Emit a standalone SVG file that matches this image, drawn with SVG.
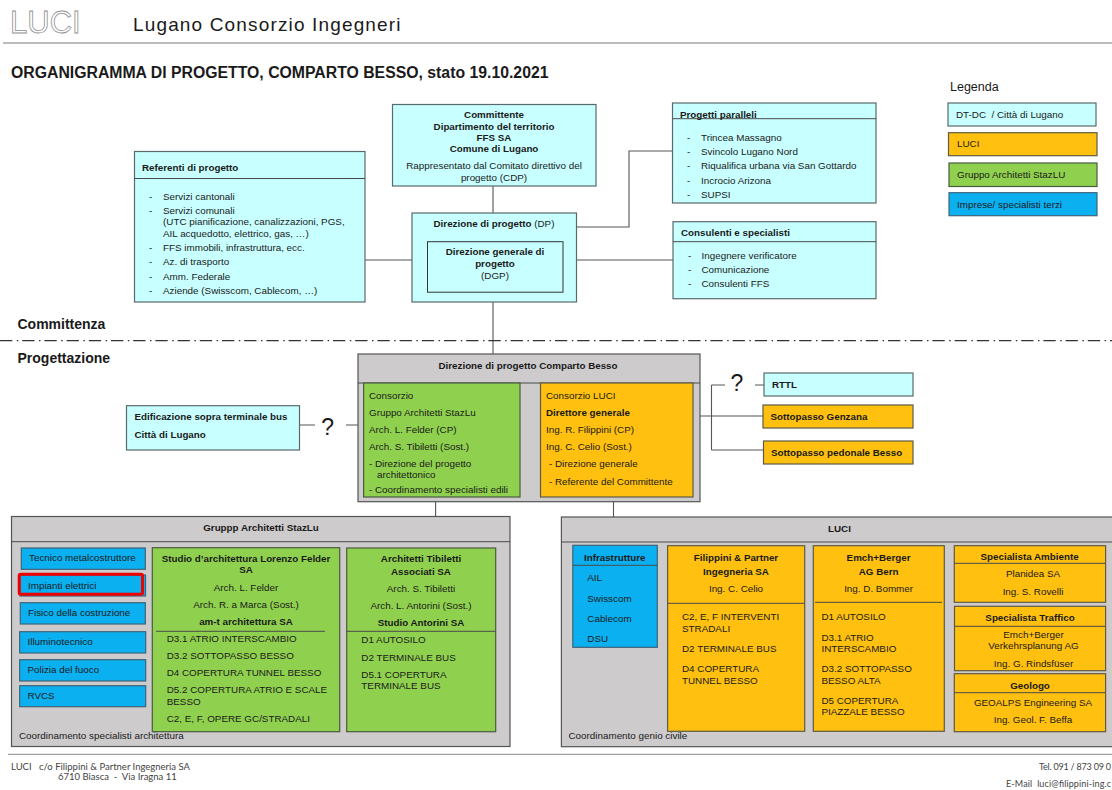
<svg xmlns="http://www.w3.org/2000/svg" width="1112" height="790" viewBox="0 0 1112 790">
<style>
text{font-family:"Liberation Sans",Arial,sans-serif;font-size:9.85px;fill:#1a1a1a}
.b{font-weight:bold;font-size:9.8px}
.m{text-anchor:middle}
.cy{fill:#c8ffff;stroke:#5a6a6c;stroke-width:1.2}
.or{fill:#ffc010;stroke:#5e5a44;stroke-width:1.2}
.gr{fill:#8fd14f;stroke:#4a5a40;stroke-width:1.2}
.bl{fill:#0ab0f0;stroke:#3e6478;stroke-width:1.2}
.gy{fill:#cdcbcc;stroke:#555;stroke-width:1.2}
.ln{stroke:#4a4a4a;stroke-width:1;fill:none}
.conn{stroke:#555;stroke-width:1.1;fill:none}
.foot{font-family:"Lato","Liberation Sans",sans-serif;font-size:9.5px;fill:#444}
.q{font-size:23px;text-anchor:middle}
.sec{font-size:14px;font-weight:bold}
</style>
<rect width="1112" height="790" fill="#fff"/>
<g id="header">
<text x="10" y="33" style="font-size:31px;fill:#fff;stroke:#8f8f8f;stroke-width:.8">LUCI</text>
<text x="133" y="31" style="font-size:19px;letter-spacing:1.15px">Lugano Consorzio Ingegneri</text>
<line x1="3" y1="43" x2="1112" y2="43" stroke="#777" stroke-width="1"/>
<text x="11" y="78" style="font-size:15.8px;font-weight:bold">ORGANIGRAMMA DI PROGETTO, COMPARTO BESSO, stato 19.10.2021</text>
</g>
<g id="connectors">
<path class="conn" d="M493 186V213M493 302V354M365 260H412M576 227H629V151H672M576 260H673"/>
<path class="conn" d="M299.600 425H315M346 425H358M520 428H540.500M700 416H763M711.500 385V450M711.500 385H725M755 385H764M711.500 450H763.500M435.600 501.700V517M613.500 501.700V517"/>
</g>
<g id="divider">
<line x1="0" y1="340.700" x2="1112" y2="340.700" stroke="#333" stroke-width="1.200" stroke-dasharray="12.300 4.500 1.500 3.900"/>
<text x="17.500" y="329" class="sec">Committenza</text>
<text x="17.500" y="363" class="sec">Progettazione</text>
</g>
<g id="committente">
<rect class="cy" x="392.500" y="104.500" width="203.500" height="81.500"/>
<text x="494" y="118" class="b m">Committente</text>
<text x="494" y="129.500" class="b m">Dipartimento del territorio</text>
<text x="494" y="140.500" class="b m">FFS SA</text>
<text x="494" y="152" class="b m">Comune di Lugano</text>
<text x="494" y="169" class="m">Rappresentato dal Comitato direttivo del</text>
<text x="494" y="181" class="m">progetto (CDP)</text>
</g>
<g id="referenti">
<rect class="cy" x="134.500" y="151.500" width="230.500" height="150.500"/>
<line class="ln" x1="134.500" y1="178.500" x2="365" y2="178.500"/>
<text x="142" y="171" class="b">Referenti di progetto</text>
<text x="149" y="199.500">-</text><text x="163" y="199.500">Servizi cantonali</text>
<text x="149" y="214">-</text><text x="163" y="214">Servizi comunali</text>
<text x="163" y="225">(UTC pianificazione, canalizzazioni, PGS,</text>
<text x="163" y="236.500">AIL acquedotto, elettrico, gas, …)</text>
<text x="149" y="251">-</text><text x="163" y="251">FFS immobili, infrastruttura, ecc.</text>
<text x="149" y="265">-</text><text x="163" y="265">Az. di trasporto</text>
<text x="149" y="279.500">-</text><text x="163" y="279.500">Amm. Federale</text>
<text x="149" y="293.500">-</text><text x="163" y="293.500">Aziende (Swisscom, Cablecom, …)</text>
</g>
<g id="direzione-progetto">
<rect class="cy" x="412" y="213" width="164.500" height="89"/>
<text x="494" y="227" class="m"><tspan class="b">Direzione di progetto</tspan> (DP)</text>
<rect x="427.500" y="241.700" width="135.500" height="50.500" fill="#c8ffff" stroke="#333" stroke-width="1"/>
<text x="495" y="255" class="b m">Direzione generale di</text>
<text x="495" y="267" class="b m">progetto</text>
<text x="495" y="278.500" class="m">(DGP)</text>
</g>
<g id="progetti-paralleli">
<rect class="cy" x="672.500" y="103" width="203.500" height="100"/>
<line class="ln" x1="672.500" y1="118.700" x2="876" y2="118.700"/>
<text x="680" y="117.500" class="b">Progetti paralleli</text>
<text x="687" y="140.500">-</text><text x="701" y="140.500">Trincea Massagno</text>
<text x="687" y="154.500">-</text><text x="701" y="154.500">Svincolo Lugano Nord</text>
<text x="687" y="169">-</text><text x="701" y="169">Riqualifica urbana via San Gottardo</text>
<text x="687" y="183.500">-</text><text x="701" y="183.500">Incrocio Arizona</text>
<text x="687" y="197.500">-</text><text x="701" y="197.500">SUPSI</text>
</g>
<g id="consulenti">
<rect class="cy" x="673" y="221.700" width="203" height="77"/>
<line class="ln" x1="673" y1="241.700" x2="876" y2="241.700"/>
<text x="681" y="236" class="b">Consulenti e specialisti</text>
<text x="688" y="259">-</text><text x="701.500" y="259">Ingegnere verificatore</text>
<text x="688" y="273">-</text><text x="701.500" y="273">Comunicazione</text>
<text x="688" y="287">-</text><text x="701.500" y="287">Consulenti FFS</text>
</g>
<g id="legenda">
<text x="950" y="91" style="font-size:12.500px">Legenda</text>
<rect class="cy" x="948" y="103" width="148" height="23"/><text x="956" y="118" xml:space="preserve">DT-DC  / Città di Lugano</text>
<rect class="or" x="948.500" y="132.700" width="148.500" height="23"/><text x="957" y="147">LUCI</text>
<rect class="gr" x="949" y="163" width="148" height="23.500"/><text x="957" y="178">Gruppo Architetti StazLU</text>
<rect class="bl" x="949" y="192.700" width="148" height="23"/><text x="957" y="207.500">Imprese/ specialisti terzi</text>
</g>
<g id="edificazione">
<rect class="cy" x="126.500" y="405.700" width="173" height="44.300"/>
<text x="134.500" y="420" class="b">Edificazione sopra terminale bus</text>
<text x="134.500" y="437.500" class="b">Città di Lugano</text>
<text x="327.600" y="435" class="q">?</text>
</g>
<g id="direzione-comparto">
<rect class="gy" x="358" y="354" width="342" height="147.700"/>
<line class="ln" x1="358" y1="383" x2="700" y2="383"/>
<text x="528" y="369" class="b m">Direzione di progetto Comparto Besso</text>
<rect class="gr" x="363.600" y="383" width="156.400" height="114"/>
<text x="369" y="399">Consorzio</text>
<text x="369" y="416">Gruppo Architetti StazLu</text>
<text x="369" y="433">Arch. L. Felder (CP)</text>
<text x="369" y="450">Arch. S. Tibiletti (Sost.)</text>
<text x="369" y="467">- Direzione del progetto</text>
<text x="377" y="478">architettonico</text>
<text x="369" y="493">- Coordinamento specialisti edili</text>
<rect class="or" x="540.500" y="383" width="152.500" height="114"/>
<text x="546" y="399">Consorzio LUCI</text>
<text x="546" y="416" class="b">Direttore generale</text>
<text x="546" y="433">Ing. R. Filippini (CP)</text>
<text x="546" y="450">Ing. C. Celio (Sost.)</text>
<text x="549" y="467">- Direzione generale</text>
<text x="549" y="485">- Referente del Committente</text>
</g>
<g id="rttl">
<text x="737" y="390.700" class="q">?</text>
<rect class="cy" x="764" y="373" width="149" height="23"/><text x="772" y="388" class="b">RTTL</text>
</g>
<g id="sottopasso-genzana">
<rect class="or" x="763" y="405" width="150" height="23"/><text x="770.500" y="419.500" class="b">Sottopasso Genzana</text>
</g>
<g id="sottopasso-besso">
<rect class="or" x="763.500" y="441" width="149.500" height="23"/><text x="771" y="456" class="b">Sottopasso pedonale Besso</text>
</g>
<g id="gruppo-architetti">
<rect class="gy" x="11.500" y="516.500" width="498.500" height="230"/>
<line class="ln" x1="11.500" y1="541.700" x2="510" y2="541.700"/>
<text x="261" y="531" class="b m">Gruppp Architetti StazLu</text>
<rect class="bl" x="21.300" y="548" width="124" height="21.300"/><text x="29" y="561">Tecnico metalcostruttore</text>
<rect class="bl" x="20" y="575" width="125.500" height="21"/><text x="28" y="588.500">Impianti elettrici</text>
<rect x="19.200" y="574.200" width="123.300" height="20" rx="1.500" fill="none" stroke="#f00000" stroke-width="3"/>
<rect class="bl" x="20.300" y="602.700" width="125" height="21.300"/><text x="28" y="616">Fisico della costruzione</text>
<rect class="bl" x="19.700" y="631.700" width="126" height="21.300"/><text x="27.500" y="645">Illuminotecnico</text>
<rect class="bl" x="19.700" y="659.700" width="126" height="21.300"/><text x="27.500" y="673">Polizia del fuoco</text>
<rect class="bl" x="19.700" y="685.700" width="126" height="21"/><text x="27.500" y="698.500">RVCS</text>
<text x="19" y="739">Coordinamento specialisti architettura</text>
<rect class="gr" x="152.300" y="547.700" width="187.400" height="184"/>
<line class="ln" x1="156" y1="631.300" x2="325" y2="631.300"/>
<text x="246" y="562" class="b m">Studio d’architettura Lorenzo Felder</text>
<text x="246" y="573" class="b m">SA</text>
<text x="246" y="590.500" class="m">Arch. L. Felder</text>
<text x="246" y="607.500" class="m">Arch. R. a Marca (Sost.)</text>
<text x="246" y="625" class="b m">am-t architettura SA</text>
<text x="166.700" y="642">D3.1 ATRIO INTERSCAMBIO</text>
<text x="166.700" y="659">D3.2 SOTTOPASSO BESSO</text>
<text x="166.700" y="676">D4 COPERTURA TUNNEL BESSO</text>
<text x="166.700" y="693">D5.2 COPERTURA ATRIO E SCALE</text>
<text x="166.700" y="704.500">BESSO</text>
<text x="166.700" y="722">C2, E, F, OPERE GC/STRADALI</text>
<rect class="gr" x="346.700" y="548" width="149" height="183.700"/>
<line class="ln" x1="346.700" y1="631.300" x2="495.700" y2="631.300"/>
<text x="421" y="562" class="b m">Architetti Tibiletti</text>
<text x="421" y="575" class="b m">Associati SA</text>
<text x="421" y="592" class="m">Arch. S. Tibiletti</text>
<text x="421" y="609" class="m">Arch. L. Antorini (Sost.)</text>
<text x="421" y="626" class="b m">Studio Antorini SA</text>
<text x="361.300" y="643">D1 AUTOSILO</text>
<text x="361.300" y="660.500">D2 TERMINALE BUS</text>
<text x="361.300" y="677.500">D5.1 COPERTURA</text>
<text x="361.300" y="689">TERMINALE BUS</text>
</g>
<g id="luci">
<rect class="gy" x="561.400" y="517" width="560" height="229.700"/>
<line class="ln" x1="561.400" y1="542" x2="1112" y2="542"/>
<text x="839.500" y="531.500" class="b m">LUCI</text>
<text x="568.500" y="739">Coordinamento genio civile</text>
<rect class="bl" x="572.800" y="545.300" width="84.500" height="102"/>
<line class="ln" x1="572.800" y1="565.300" x2="657.300" y2="565.300"/>
<text x="614.700" y="561" class="b m">Infrastrutture</text>
<text x="587.300" y="581">AIL</text>
<text x="587.300" y="601.500">Swisscom</text>
<text x="587.300" y="622">Cablecom</text>
<text x="587.300" y="641.500">DSU</text>
<rect class="or" x="667.600" y="545.700" width="137.100" height="185.600"/>
<line class="ln" x1="667.600" y1="603.300" x2="804.700" y2="603.300"/>
<text x="736" y="561" class="b m">Filippini &amp; Partner</text>
<text x="736" y="574.500" class="b m">Ingegneria SA</text>
<text x="736" y="592" class="m">Ing. C. Celio</text>
<text x="682" y="620">C2, E, F INTERVENTI</text>
<text x="682" y="632">STRADALI</text>
<text x="682" y="652">D2 TERMINALE BUS</text>
<text x="682" y="672">D4 COPERTURA</text>
<text x="682" y="683.500">TUNNEL BESSO</text>
<rect class="or" x="813.300" y="545.700" width="131" height="185.600"/>
<line class="ln" x1="815" y1="602.300" x2="942" y2="602.300"/>
<text x="878.600" y="561" class="b m">Emch+Berger</text>
<text x="878.600" y="574.500" class="b m">AG Bern</text>
<text x="878.600" y="592" class="m">Ing. D. Bommer</text>
<text x="821.400" y="620">D1 AUTOSILO</text>
<text x="821.400" y="640.500">D3.1 ATRIO</text>
<text x="821.400" y="652">INTERSCAMBIO</text>
<text x="821.400" y="672">D3.2 SOTTOPASSO</text>
<text x="821.400" y="683.500">BESSO ALTA</text>
<text x="821.400" y="703.500">D5 COPERTURA</text>
<text x="821.400" y="715">PIAZZALE BESSO</text>
<rect class="or" x="954.300" y="545.700" width="151.300" height="56.600"/>
<line class="ln" x1="954.300" y1="563.300" x2="1105.600" y2="563.300"/>
<text x="1029.600" y="560" class="b m">Specialista Ambiente</text>
<text x="1033" y="577" class="m">Planidea SA</text>
<text x="1033" y="594.500" class="m">Ing. S. Rovelli</text>
<rect class="or" x="954.500" y="606.300" width="151.100" height="64.400"/>
<line class="ln" x1="954.500" y1="626.300" x2="1105.600" y2="626.300"/>
<text x="1030" y="621" class="b m">Specialista Traffico</text>
<text x="1033.500" y="638" class="m">Emch+Berger</text>
<text x="1033.500" y="649" class="m">Verkehrsplanung AG</text>
<text x="1033.500" y="667" class="m">Ing. G. Rindsfüser</text>
<rect class="or" x="954.300" y="673.700" width="151.300" height="58"/>
<line class="ln" x1="954.300" y1="692.700" x2="1105.600" y2="692.700"/>
<text x="1030" y="688.500" class="b m">Geologo</text>
<text x="1033" y="705.500" class="m">GEOALPS Engineering SA</text>
<text x="1033" y="722.500" class="m">Ing. Geol. F. Beffa</text>
</g>
<g id="footer">
<line x1="8" y1="754.300" x2="1112" y2="754.300" stroke="#888" stroke-width="1"/>
<text x="11" y="769.500" class="foot" xml:space="preserve">LUCI   c/o Filippini &amp; Partner Ingegneria SA</text>
<text x="58" y="780" class="foot" xml:space="preserve">6710 Biasca  -  Via Iragna 11</text>
<text x="1039" y="769.500" class="foot" style="font-size:9px" textLength="72" lengthAdjust="spacing">Tel. 091 / 873 09 0</text>
<text x="1006" y="786.700" class="foot" style="font-size:9px" textLength="105" lengthAdjust="spacing" xml:space="preserve">E-Mail  luci@filippini-ing.c</text>
</g>
</svg>
